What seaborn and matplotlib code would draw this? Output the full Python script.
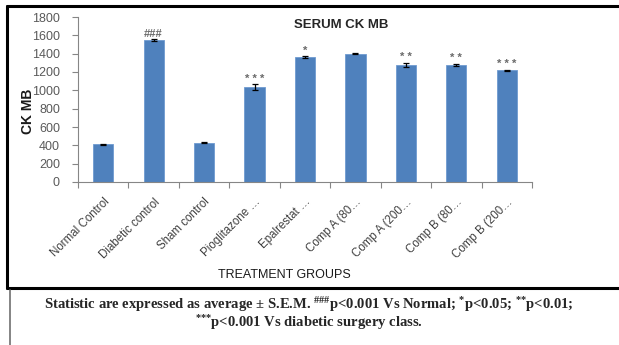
import matplotlib
matplotlib.use("Agg")
import matplotlib.pyplot as plt
import seaborn as sns
import pandas as pd
from matplotlib.lines import Line2D

# Serum CK-MB by treatment group (mean ± SEM)
groups = ["Normal Control", "Diabetic control", "Sham control", "Pioglitazone …",
          "Epalrestat …", "Comp A (80…", "Comp A (200…", "Comp B (80…", "Comp B (200…"]
ck_mb = [410, 1550, 430, 1035, 1365, 1400, 1280, 1280, 1220]
sem = [8, 8, 6, 30, 10, 6, 20, 10, 6]
marks = ["", "###", "", "* * *", "*", "", "* *", "* *", "* * *"]

df = pd.DataFrame({"group": groups, "ck_mb": ck_mb})

sns.set_theme(style="white")
plt.rcParams["font.family"] = ["Liberation Sans", "DejaVu Sans"]
plt.rcParams["mathtext.fontset"] = "custom"
plt.rcParams["mathtext.rm"] = "Liberation Serif:bold"
plt.rcParams["mathtext.bf"] = "Liberation Serif:bold"
plt.rcParams["mathtext.default"] = "rm"

fig = plt.figure(figsize=(6.19, 3.45), dpi=100)
ax = fig.add_axes([78 / 619, 1 - 182 / 345, (532 - 78) / 619, (182 - 17) / 345])

sns.barplot(data=df, x="group", y="ck_mb", color="#4F81BD", width=0.4,
            edgecolor="#6F9BD0", linewidth=0.6, ax=ax, saturation=1)
ax.errorbar(range(len(groups)), ck_mb, yerr=sem, fmt="none", ecolor="black",
            elinewidth=0.9, capsize=2.5, capthick=0.9)

for i, (v, e, m) in enumerate(zip(ck_mb, sem, marks)):
    if m:
        ax.text(i, v + e + 6, m, ha="center", va="bottom", fontsize=8,
                color="#6a6a6a", fontweight="bold")

ax.set_ylim(0, 1800)
ax.set_xlim(-0.5, len(groups) - 0.5)
ax.set_yticks(range(0, 1801, 200))
ax.tick_params(axis="y", labelsize=9, colors="#5a5a5a", length=4, width=0.8,
               direction="out", left=True, pad=9)
ax.tick_params(axis="y", which="major", color="#868686")
ax.set_xticks(range(len(groups)))
ax.set_xticklabels(groups, rotation=45, ha="right", rotation_mode="anchor",
                   fontsize=8.3, color="#404040")
ax.tick_params(axis="x", length=0, pad=10)
ax.set_xticks([i - 0.5 for i in range(len(groups) + 1)], minor=True)
ax.tick_params(axis="x", which="minor", length=4, width=0.8, color="#868686",
               direction="out", bottom=True)
for s in ["top", "right"]:
    ax.spines[s].set_visible(False)
for s in ["left", "bottom"]:
    ax.spines[s].set_color("#868686")
    ax.spines[s].set_linewidth(0.8)

ax.set_xlabel("")
ax.set_ylabel("")

W, H = 619, 345
def fx(x): return x / W
def fy(y): return 1 - y / H

fig.text(fx(28), fy(111), "CK MB", rotation=90, ha="center", va="center",
         fontsize=10, fontweight="bold", color="#1a1a1a")
fig.text(fx(341), fy(25), "SERUM CK MB", ha="center", va="center",
         fontsize=9.5, fontweight="bold")
fig.text(fx(284), fy(275), "TREATMENT GROUPS", ha="center", va="center",
         fontsize=9, color="#1a1a1a")

# frame around the chart panel and caption panel
fig.add_artist(Line2D([fx(7), fx(619)], [fy(6), fy(6)], color="black", lw=2.2))
fig.add_artist(Line2D([fx(7), fx(7)], [fy(6), fy(288)], color="black", lw=2.2))
fig.add_artist(Line2D([fx(7), fx(619)], [fy(288), fy(288)], color="black", lw=2.2))
fig.add_artist(Line2D([fx(10), fx(10)], [fy(290), fy(345)], color="#707070", lw=1.2))

cap_font = ["Liberation Serif", "DejaVu Serif"]
fig.text(fx(309), fy(305),
         r"Statistic are expressed as average ± S.E.M. $^{\#\#\#}$p<0.001 Vs Normal; $^{*}$p<0.05; $^{{*}{*}}$p<0.01;",
         ha="center", va="center", fontsize=10.5, fontweight="bold", family=cap_font)
fig.text(fx(309), fy(323), r"$^{{*}{*}{*}}$p<0.001 Vs diabetic surgery class.",
         ha="center", va="center", fontsize=10.5, fontweight="bold", family=cap_font)

fig.savefig("out.png", dpi=100)
